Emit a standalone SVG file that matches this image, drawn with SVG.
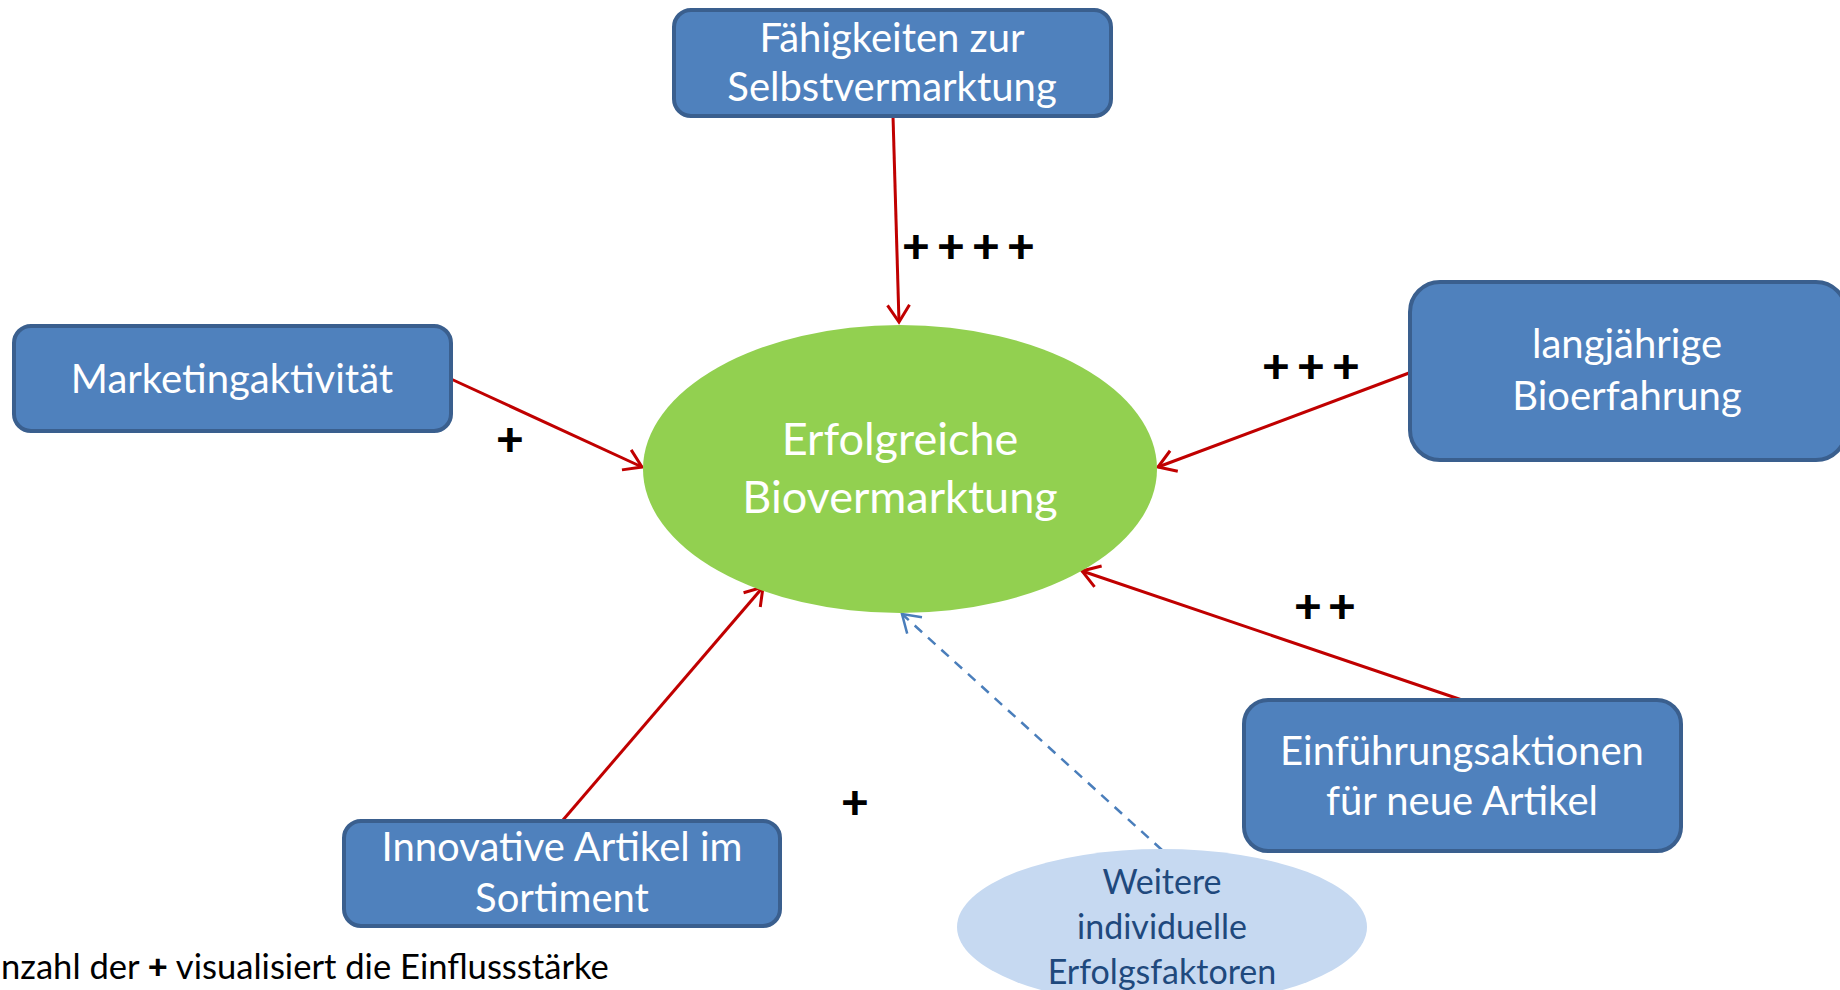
<svg xmlns="http://www.w3.org/2000/svg" width="1840" height="990" viewBox="0 0 1840 990">
<style>
.box{fill:#4f81bd;stroke:#3a5f8e;stroke-width:4}
.bt{font-family:Lato,"Open Sans",sans-serif;font-size:40px;fill:#ffffff;text-anchor:middle}
.et{font-family:Lato,"Open Sans",sans-serif;font-size:45px;fill:#ffffff;text-anchor:middle}
.wt{font-family:Lato,"Open Sans",sans-serif;font-size:34px;fill:#1f497d;text-anchor:middle}
.pl{font-family:Lato,"Open Sans",sans-serif;font-weight:900;font-size:48px;fill:#000000}
.ft{font-family:Lato,"Open Sans",sans-serif;font-size:34.6px;fill:#000000}
.red{stroke:#c00000;stroke-width:3;fill:none;marker-end:url(#ar)}
.dash{stroke:#4a7ebb;stroke-width:2.5;fill:none;stroke-dasharray:10 8;marker-end:url(#ab)}
</style>
<defs>
<marker id="ar" markerUnits="userSpaceOnUse" markerWidth="30" markerHeight="30" viewBox="-20 -15 25 30" refX="0" refY="0" orient="auto">
<path d="M-17,-11 L0,0 L-17,11" fill="none" stroke="#c00000" stroke-width="3"/>
</marker>
<marker id="ab" markerUnits="userSpaceOnUse" markerWidth="30" markerHeight="30" viewBox="-20 -15 25 30" refX="0" refY="0" orient="auto">
<path d="M-17,-11 L0,0 L-17,11" fill="none" stroke="#4a7ebb" stroke-width="2.5"/>
</marker>
</defs>
<rect width="1840" height="990" fill="#ffffff"/>

<g id="connectors">
<line class="red" x1="893" y1="116" x2="899" y2="322"/>
<line class="red" x1="451" y1="379" x2="642" y2="467"/>
<line class="red" x1="1409" y1="373" x2="1158" y2="467"/>
<line class="red" x1="1462" y1="700" x2="1082" y2="571"/>
<line class="red" x1="563" y1="820" x2="763" y2="587"/>
<line class="dash" x1="1162" y1="850" x2="902" y2="614"/>
</g>

<g id="center">
<ellipse cx="900" cy="469" rx="257" ry="144" fill="#92d050"/>
<text class="et" x="900" y="455">Erfolgreiche</text>
<text class="et" x="900" y="513">Biovermarktung</text>
</g>

<g id="n-selbst">
<rect class="box" x="674" y="10" width="437" height="106" rx="17"/>
<text class="bt" x="892" y="52">Fähigkeiten zur</text>
<text class="bt" x="892" y="101">Selbstvermarktung</text>
</g>

<g id="n-marketing">
<rect class="box" x="14" y="326" width="437" height="105" rx="17"/>
<text class="bt" x="232" y="393">Marketingaktivität</text>
</g>

<g id="n-bioerfahrung">
<rect class="box" x="1410" y="282" width="436" height="178" rx="30"/>
<text class="bt" x="1627" y="358">langjährige</text>
<text class="bt" x="1627" y="410">Bioerfahrung</text>
</g>

<g id="n-einfuehrung">
<rect class="box" x="1244" y="700" width="437" height="151" rx="24"/>
<text class="bt" x="1462" y="765">Einführungsaktionen</text>
<text class="bt" x="1462" y="815">für neue Artikel</text>
</g>

<g id="n-innovativ">
<rect class="box" x="344" y="821" width="436" height="105" rx="17"/>
<text class="bt" x="562" y="861">Innovative Artikel im</text>
<text class="bt" x="562" y="912">Sortiment</text>
</g>

<g id="n-weitere">
<ellipse cx="1162" cy="927" rx="205" ry="78" fill="#c6d9f1"/>
<text class="wt" x="1162" y="894">Weitere</text>
<text class="wt" x="1162" y="939">individuelle</text>
<text class="wt" x="1162" y="984">Erfolgsfaktoren</text>
</g>

<g id="labels">
<text class="pl" y="263"><tspan x="902">+</tspan> <tspan x="937">+</tspan> <tspan x="972">+</tspan> <tspan x="1007">+</tspan></text>
<text class="pl" y="383"><tspan x="1262">+</tspan> <tspan x="1297">+</tspan> <tspan x="1332">+</tspan></text>
<text class="pl" x="496" y="456">+</text>
<text class="pl" y="623"><tspan x="1294">+</tspan> <tspan x="1328">+</tspan></text>
<text class="pl" x="841" y="819">+</text>
<text class="ft" x="1" y="979">nzahl der <tspan font-weight="900">+</tspan> visualisiert die Einflussstärke</text>
</g>
</svg>
